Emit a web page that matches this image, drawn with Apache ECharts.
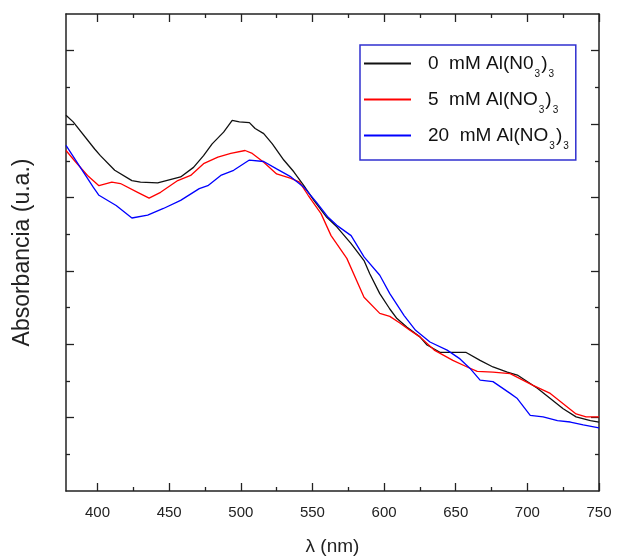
<!DOCTYPE html>
<html>
<head>
<meta charset="utf-8">
<script src="https://cdn.jsdelivr.net/npm/echarts@6/dist/echarts.min.js"></script>
<style>
  html, body { margin: 0; padding: 0; background: #fff; }
  #chart { width: 617px; height: 557px; }
</style>
</head>
<body>
<div id="chart"></div>
<script>
// UV-Vis absorption spectra for three Al(NO3)3 concentrations
const seriesNames = ['0 mM Al(N03)3', '5 mM Al(NO3)3', '20 mM Al(NO3)3'];
const seriesColors = ['#111111', '#ff0000', '#0000ff'];

const wlBlack = [378,383,398,402,412,424,430,442,458,467,474,480,488,494,499,506,510,516,522,530,537,544,551,560,567,577,586,590,597,604,609,616,625,630,639,646,657,667,676,686,693,707,716,725,734,744,750];
const absBlack = [0.512,0.503,0.466,0.457,0.437,0.423,0.421,0.420,0.428,0.441,0.457,0.473,0.489,0.505,0.503,0.502,0.494,0.487,0.473,0.451,0.435,0.416,0.396,0.373,0.360,0.337,0.314,0.296,0.269,0.248,0.235,0.223,0.210,0.199,0.189,0.189,0.189,0.178,0.169,0.162,0.158,0.140,0.126,0.112,0.101,0.096,0.094];

const wlRed = [378,384,393,401,410,416,428,436,444,456,465,474,484,493,503,508,516,525,535,541,547,556,563,574,586,597,604,611,618,625,635,648,658,665,676,688,704,716,725,734,741,750];
const absRed = [0.464,0.450,0.430,0.416,0.421,0.419,0.407,0.399,0.407,0.423,0.430,0.446,0.455,0.460,0.464,0.460,0.448,0.432,0.426,0.421,0.403,0.378,0.348,0.317,0.264,0.242,0.238,0.229,0.219,0.210,0.192,0.178,0.169,0.163,0.162,0.160,0.144,0.133,0.119,0.105,0.101,0.101];

const wlBlue = [378,388,397,401,413,424,435,446,458,471,477,486,495,506,516,525,535,544,553,561,567,577,586,597,604,614,622,632,644,653,660,667,676,688,693,702,711,721,730,739,750];
const absBlue = [0.471,0.441,0.414,0.403,0.389,0.372,0.376,0.385,0.396,0.412,0.416,0.430,0.437,0.451,0.449,0.439,0.428,0.414,0.393,0.373,0.362,0.348,0.319,0.294,0.269,0.239,0.219,0.203,0.192,0.180,0.167,0.151,0.149,0.133,0.126,0.103,0.101,0.096,0.094,0.090,0.086];

// Tick positions
const xMajor = [400, 450, 500, 550, 600, 650, 700, 750];
const xMinor = [425, 475, 525, 575, 625, 675, 725];
const yMajor = [0.1, 0.2, 0.3, 0.4, 0.5, 0.6];
const yMinor = [0.05, 0.15, 0.25, 0.35, 0.45, 0.55];

// Legend labels with subscripts
const legendRich = {
  '0 mM Al(N03)3': '{g|}{n|0  mM Al(N0}{s|3}{n|)}{s|3}',
  '5 mM Al(NO3)3': '{g|}{n|5  mM Al(NO}{s|3}{n|)}{s|3}',
  '20 mM Al(NO3)3': '{g|}{n|20  mM Al(NO}{s|3}{n|)}{s|3}'
};

const FONT = 'Liberation Sans, Arial, sans-serif';
const AXIS_COLOR = '#222222';

function pairs(xs, ys) { return xs.map((x, i) => [x, ys[i]]); }

function xAxisDef(position, ticks, len, major, extra) {
  return Object.assign({
    type: 'value', position: position, min: 378, max: 750, gridIndex: 0,
    axisLine: { show: major, onZero: false, lineStyle: { color: AXIS_COLOR, width: 1.5 } },
    axisTick: { show: true, inside: true, length: len, customValues: ticks, lineStyle: { color: AXIS_COLOR, width: 1.3 } },
    axisLabel: { show: false },
    splitLine: { show: false }
  }, extra || {});
}
function yAxisDef(position, ticks, len, major, extra) {
  return Object.assign({
    type: 'value', position: position, min: 0, max: 0.65, gridIndex: 0,
    axisLine: { show: major, onZero: false, lineStyle: { color: AXIS_COLOR, width: 1.5 } },
    axisTick: { show: true, inside: true, length: len, customValues: ticks, lineStyle: { color: AXIS_COLOR, width: 1.3 } },
    axisLabel: { show: false },
    splitLine: { show: false }
  }, extra || {});
}

const chart = echarts.init(document.getElementById('chart'), null, { renderer: 'canvas' });

const option = {
  backgroundColor: '#ffffff',
  animation: false,
  grid: { left: 66, top: 14, width: 533, height: 477, containLabel: false, outerBoundsMode: 'none' },
  xAxis: [
    xAxisDef('bottom', xMajor, 8, true, {
      axisLabel: { show: true, customValues: xMajor, margin: 14, color: '#222', fontSize: 15, fontFamily: FONT },
      name: 'λ (nm)', nameLocation: 'middle', nameGap: 46,
      nameTextStyle: { fontSize: 19, fontFamily: FONT, color: '#222' }
    }),
    xAxisDef('bottom', xMinor, 4, false),
    xAxisDef('top', xMajor, 8, true),
    xAxisDef('top', xMinor, 4, false)
  ],
  yAxis: [
    yAxisDef('left', yMajor, 8, true, {
      name: 'Absorbancia (u.a.)', nameLocation: 'middle', nameGap: 32,
      nameTextStyle: { fontSize: 23, fontFamily: FONT, color: '#222' }
    }),
    yAxisDef('left', yMinor, 4, false),
    yAxisDef('right', yMajor, 8, true),
    yAxisDef('right', yMinor, 4, false)
  ],
  legend: {
    orient: 'vertical',
    left: 360, top: 45,
    padding: [9, 7, 9, 3],
    itemWidth: 47, itemHeight: 14, itemGap: 11,
    borderColor: '#3030d0', borderWidth: 1.5,
    itemStyle: { opacity: 0, borderWidth: 0 },
    data: seriesNames,
    formatter: name => legendRich[name],
    textStyle: {
      rich: {
        g: { width: 12 },
        n: { fontSize: 19, fontFamily: FONT, color: '#111', lineHeight: 30 },
        s: { fontSize: 10, fontFamily: FONT, color: '#111', padding: [21, 1, 0, 1] }
      }
    }
  },
  series: [
    { name: seriesNames[0], type: 'line', data: pairs(wlBlack, absBlack), color: seriesColors[0] },
    { name: seriesNames[1], type: 'line', data: pairs(wlRed, absRed), color: seriesColors[1] },
    { name: seriesNames[2], type: 'line', data: pairs(wlBlue, absBlue), color: seriesColors[2] }
  ].map(s => Object.assign(s, {
    xAxisIndex: 0, yAxisIndex: 0, showSymbol: false, symbol: 'none',
    lineStyle: { width: 1.3, color: s.color }, clip: true
  }))
};

chart.setOption(option);
</script>
</body>
</html>
